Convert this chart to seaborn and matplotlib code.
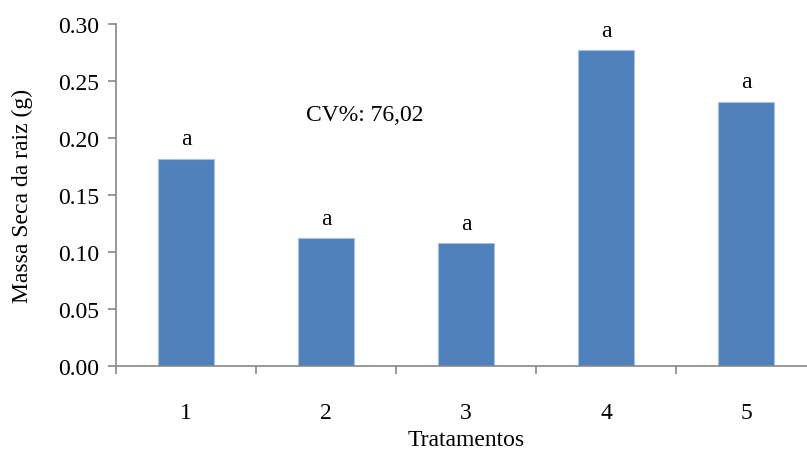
import matplotlib
matplotlib.use("Agg")
import matplotlib.pyplot as plt
import pandas as pd
import seaborn as sns

tratamentos = ["1", "2", "3", "4", "5"]
massa_seca = [0.182, 0.112, 0.108, 0.277, 0.232]
letras = ["a", "a", "a", "a", "a"]
cv_texto = "CV%: 76,02"

sns.set_theme(style="white")
plt.rcParams["font.family"] = ["Liberation Serif", "DejaVu Serif"]
plt.rcParams["text.color"] = "black"
plt.rcParams["axes.labelcolor"] = "black"
plt.rcParams["xtick.color"] = "black"
plt.rcParams["ytick.color"] = "black"

df = pd.DataFrame({"Tratamentos": tratamentos, "massa": massa_seca})

fig = plt.figure(figsize=(8.07, 4.56), dpi=100)
ax = fig.add_axes([116 / 807, (456 - 367) / 456, 700 / 807, 342 / 456])

sns.barplot(data=df, x="Tratamentos", y="massa", color="#4F81BD", width=0.4,
            saturation=1, edgecolor="#A9C1E0", linewidth=0.8, ax=ax)

for i, (v, l) in enumerate(zip(massa_seca, letras)):
    ax.text(i, v + 0.008, l, ha="center", va="bottom", fontsize=17, color="black")

ax.text(1.28, 0.221, cv_texto, ha="center", va="center", fontsize=17, color="black")

ax.set_xlim(-0.5, 4.5)
ax.set_ylim(0, 0.30)
ax.set_yticks([0.0, 0.05, 0.10, 0.15, 0.20, 0.25, 0.30])
ax.set_yticklabels([f"{t:.2f}" for t in ax.get_yticks()])
ax.set_xticks(range(5))
ax.set_xticklabels(tratamentos)
ax.set_xticks([i - 0.5 for i in range(6)], minor=True)

for s in ["top", "right"]:
    ax.spines[s].set_visible(False)
for s in ["left", "bottom"]:
    ax.spines[s].set_color("#888888")
    ax.spines[s].set_linewidth(1.2)

ax.tick_params(axis="y", which="major", direction="out", length=6, width=1.2,
               color="#888888", labelcolor="black", labelsize=17, pad=6, left=True)
ax.tick_params(axis="x", which="major", length=0, labelcolor="black", labelsize=17, pad=26)
ax.tick_params(axis="x", which="minor", direction="out", length=6, width=1.2,
               color="#888888", bottom=True)

ax.set_ylabel("Massa Seca da raiz (g)", fontsize=17, labelpad=18, color="black")
ax.set_xlabel("Tratamentos", fontsize=17, labelpad=4, color="black")

fig.savefig("out.png", dpi=100)
